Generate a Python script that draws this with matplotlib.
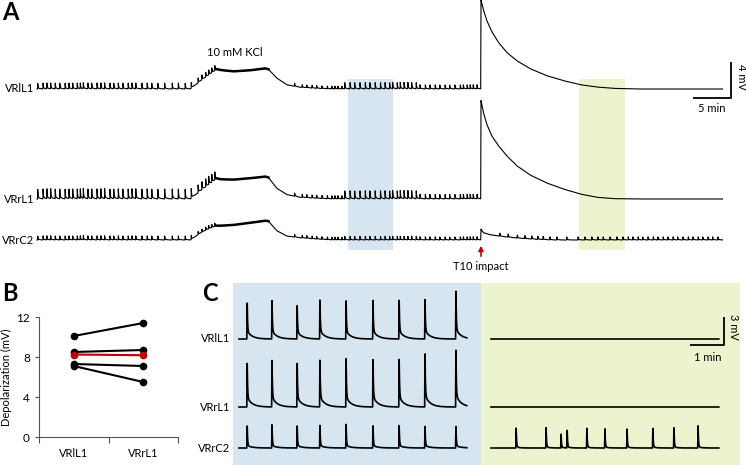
import numpy as np
import matplotlib.pyplot as plt
from matplotlib.patches import Rectangle

plt.rcParams['font.family'] = ['Lato', 'DejaVu Sans']

W, H = 746, 465
BLUE = '#d6e5ef'
YELLOW = '#eef3cf'
RED = '#c00000'

# ---------------- A: whole recording (time in min, depolarization in mV) ----------------
trace_names = ['VRlL1', 'VRrL1', 'VRrC2']

# slow potential (KCl wash-in / wash-out, then T10 impact)
kcl_t = [0, 20.2, 21.45, 22.5, 23.64, 25.83, 28.0, 30.0, 30.44, 31.54, 32.85, 34.6, 36.8, 39.0, 58.38]
kcl_lL1 = [0, 0, 0.85, 1.48, 2.15, 1.96, 2.07, 2.3, 2.2, 1.22, 0.48, 0.19, 0.07, 0, 0]
kcl_rL1 = [0, 0, 0.85, 1.5, 2.2, 2.15, 2.3, 2.5, 2.4, 1.2, 0.5, 0.19, 0.07, 0, 0]
kcl_rC2 = [0, 0, 0.74, 1.2, 1.56, 1.67, 1.9, 2.15, 2.1, 1.04, 0.44, 0.25, 0.1, 0, 0]
plateau = [23.6, 30.45]

impact_t = [58.42, 58.73, 59.17, 59.82, 60.70, 61.80, 63.12, 64.87, 67.06, 69.25, 71.45, 73.64, 75.83, 78.9, 90.2]
impact_lL1 = [9.85, 8.81, 7.63, 6.41, 5.19, 4.07, 3.15, 2.26, 1.48, 0.93, 0.48, 0.22, 0.07, 0, 0]
impact_rL1 = [10.93, 9.63, 8.33, 7.04, 5.93, 4.81, 3.70, 2.67, 1.78, 1.11, 0.56, 0.19, 0.04, 0, 0]
impact_t_rC2 = [58.42, 58.73, 59.6, 61.36, 63.55, 65.75, 67.93, 90.2]
impact_rC2 = [1.19, 0.81, 0.59, 0.37, 0.19, 0.07, 0, 0]

# ventral root bursts (shared by the three roots before the impact)
burst_t = [0.1, 0.8, 1.3, 1.8, 2.4, 3.0, 3.7, 4.2, 4.7, 5.3, 5.7, 6.1, 6.7, 7.2, 7.9, 8.4,
           8.9, 9.6, 10.1, 10.7, 11.3, 12.0, 12.5, 13.0, 13.8, 14.5, 15.1, 15.9, 16.8, 17.8,
           18.6, 19.5, 20.3, 21.2, 21.7, 22.2, 22.6, 23.0, 23.4,
           33.9, 34.9, 35.5, 36.2, 36.8, 37.5, 38.2, 38.8, 39.2, 39.6, 40.1,
           40.5, 41.2, 41.8, 42.5, 43.2, 43.8, 44.5, 45.2, 45.8, 46.4, 46.8, 47.4, 47.8,
           48.3, 48.8, 49.3, 49.9, 50.4, 51.1, 51.7, 52.4, 53.0, 53.7, 54.3, 55.0, 55.7,
           56.1, 56.6, 57.0, 57.4, 57.9,
           60.9, 62.0, 63.2, 64.2, 65.1, 65.9, 66.6, 67.5, 68.4, 69.7, 71.2, 72.1, 73.0,
           73.8, 74.5, 75.4, 76.3, 77.1, 77.8, 78.4, 79.1, 79.7, 80.4, 81.1, 81.7, 82.4,
           83.0, 83.7, 84.3, 85.0, 85.7, 86.3, 87.0, 87.6, 88.3, 88.9, 89.6]
epoch_edges = [0, 20.8, 30, 40.3, 50, 59, 91]
burst_amp_lL1 = [0.65, 0.55, 0.3, 0.7, 0.45, 0]
burst_amp_rL1 = [1.1, 0.9, 0.35, 0.9, 0.5, 0]
burst_amp_rC2 = [0.45, 0.35, 0.3, 0.4, 0.35, 0.35]

blue_win = [40.88, 46.8]
yellow_win = [71.36, 77.37]

# ---------------- B: depolarization after impact ----------------
roots = ['VRlL1', 'VRrL1']
depol_lL1 = [10.1, 8.5, 7.3, 7.1]
depol_rL1 = [11.4, 8.7, 7.1, 5.5]

# ---------------- C: expanded windows (min from window start, mV) ----------------
c_win = 6.7
c_blue_t = [0.24, 0.97, 1.71, 2.38, 3.15, 3.94, 4.71, 5.47, 6.38]
c_blue_lL1 = [4.2, 4.3, 3.9, 4.5, 4.1, 4.4, 4.4, 4.6, 5.3]
c_blue_rL1 = [5.1, 5.2, 5.1, 5.4, 5.2, 5.4, 5.4, 6.2, 6.3]
c_blue_rC2 = [2.6, 2.6, 2.6, 2.6, 2.55, 2.55, 2.55, 2.55, 2.4]
c_yellow_t = [0.74, 1.62, 2.06, 2.24, 2.82, 3.35, 4.0, 4.76, 5.38, 6.09]
c_yellow_rC2 = [2.25, 2.25, 1.5, 2.0, 2.25, 2.25, 2.25, 2.25, 2.25, 2.4]


def add_bursts(t, y, times, amps, rise, tau_fast, tau_slow, frac):
    for ts, a in zip(times, amps):
        d = t - ts
        up = (d < 0) & (d > -rise)
        y[up] += a * (1 + d[up] / rise)
        dn = d >= 0
        y[dn] += a * ((1 - frac) * np.exp(-d[dn] / tau_fast) + frac * np.exp(-d[dn] / tau_slow))
    return y


def px_axes(x0, y0, x1, y1):
    return fig.add_axes([x0 / W, 1 - y1 / H, (x1 - x0) / W, (y1 - y0) / H])


def ftext(x, y, s, **kw):
    fig.text(x / W, 1 - y / H, s, **kw)


fig = plt.figure(figsize=(W / 100, H / 100), dpi=100)

# ---- panel A ----
axA = px_axes(0, 0, W, 270)
axA.set_xlim(-37 / 7.6, (W - 37) / 7.6)
axA.set_ylim((89 - 270) / 9, 89 / 9)
axA.axis('off')

offsets = [0, (89 - 199) / 9, (89 - 240) / 9]
for win, col in [(blue_win, BLUE), (yellow_win, YELLOW)]:
    axA.add_patch(Rectangle((win[0], -17.89), win[1] - win[0], 19.0, color=col, lw=0, zorder=0))

t = np.linspace(0, 90.2, 24000)
env = [(kcl_t + impact_t, kcl_lL1 + impact_lL1),
       (kcl_t + impact_t, kcl_rL1 + impact_rL1),
       (kcl_t + impact_t_rC2, kcl_rC2 + impact_rC2)]
amps = [burst_amp_lL1, burst_amp_rL1, burst_amp_rC2]
idx = np.searchsorted(epoch_edges, burst_t, side='right') - 1
on_plateau = (t >= plateau[0]) & (t <= plateau[1])
for k in range(3):
    y = np.interp(t, env[k][0], env[k][1])
    a = np.array(amps[k])[idx]
    y = add_bursts(t, y, burst_t, a, 0.02, 0.04, 0.3, 0.2)
    axA.plot(t, y + offsets[k], color='black', lw=0.8, zorder=2)
    # noisy, thick-looking trace during the KCl plateau
    axA.plot(t[on_plateau], y[on_plateau] + offsets[k], color='black', lw=1.8, zorder=2)
    ftext(34, [89, 199, 240][k], trace_names[k], ha='right', va='center', fontsize=8)

# scale bar 5 min / 4 mV
axA.plot([86.32, 91.32, 91.32], [-1, -1, 3], color='black', lw=1.3, solid_capstyle='butt')
ftext(712, 109, '5 min', ha='center', va='center', fontsize=8)
ftext(741.5, 77.5, '4 mV', ha='center', va='center', fontsize=8, rotation=-90)

ftext(235, 53, '10 mM KCl', ha='center', va='center', fontsize=8)
axA.annotate('', xy=(58.42, (89 - 243) / 9), xytext=(58.42, (89 - 259) / 9),
             arrowprops=dict(arrowstyle='-|>', color=RED, lw=1.2, mutation_scale=7))
ftext(481, 266, 'T10 impact', ha='center', va='center', fontsize=8)

# ---- panel B ----
axB = px_axes(39, 317, 178, 437)
for a, b in zip(depol_lL1, depol_rL1):
    axB.plot([0, 1], [a, b], '-o', color='black', lw=1.5, ms=4.5)
axB.plot([0, 1], [np.mean(depol_lL1), np.mean(depol_rL1)], '-o', color=RED, lw=1.5, ms=4.5)
axB.set_xlim(-0.5, 1.5)
axB.set_ylim(0, 12)
axB.set_yticks([0, 4, 8, 12])
axB.set_xticks([0, 1])
axB.set_xticklabels(roots)
axB.set_xticks([-0.5, 0.5, 1.5], minor=True)
axB.tick_params(axis='x', which='major', length=0, pad=8, labelsize=8)
axB.tick_params(axis='x', which='minor', length=4, width=0.8, color='#555555')
axB.tick_params(axis='y', length=3, width=0.8, color='#555555', labelsize=8.5)
for s in ['top', 'right']:
    axB.spines[s].set_visible(False)
for s in ['left', 'bottom']:
    axB.spines[s].set_color('#555555')
    axB.spines[s].set_linewidth(0.8)
axB.set_ylabel('Depolarization (mV)', fontsize=8, labelpad=3)

# ---- panel C ----
axC = px_axes(233, 283, 740, 465)
axC.set_xlim(0, 507 / 34)
axC.set_ylim(-17 / 9.3, (448 - 283) / 9.3)
axC.axis('off')
blue_x0 = 6 / 34
yellow_x0 = (491 - 233) / 34
split = (481 - 233) / 34
axC.axvspan(0, split, color=BLUE, lw=0, zorder=0)
axC.axvspan(split, 507 / 34, color=YELLOW, lw=0, zorder=0)

c_off = [(448 - 339) / 9.3, (448 - 407) / 9.3, 0]
tc = np.linspace(0, c_win, 3000)
blue_amps = [c_blue_lL1, c_blue_rL1, c_blue_rC2]
blue_frac = [0.2, 0.2, 0.1]
for k in range(3):
    y = add_bursts(tc, np.zeros_like(tc), c_blue_t, blue_amps[k], 0.01, 0.012, 0.15, blue_frac[k])
    axC.plot(tc + blue_x0, y + c_off[k], color='black', lw=1.2, zorder=2)
    ftext(230, [339, 407, 448][k], trace_names[k], ha='right', va='center', fontsize=8)
for k in range(2):
    axC.plot(tc + yellow_x0, np.zeros_like(tc) + c_off[k], color='black', lw=1.2, zorder=2)
y = add_bursts(tc, np.zeros_like(tc), c_yellow_t, c_yellow_rC2, 0.01, 0.012, 0.1, 0.05)
axC.plot(tc + yellow_x0, y + c_off[2], color='black', lw=1.2, zorder=2)

# scale bar 1 min / 3 mV
cx = (724 - 233) / 34
cy = (448 - 345) / 9.3
axC.plot([cx - 1, cx, cx], [cy, cy, cy + 3], color='black', lw=1.3, solid_capstyle='butt')
ftext(708, 357.5, '1 min', ha='center', va='center', fontsize=8)
ftext(734, 327, '3 mV', ha='center', va='center', fontsize=8, rotation=-90)

# panel letters
ftext(2, 13, 'A', ha='left', va='center', fontsize=17, fontweight='bold')
ftext(2, 293, 'B', ha='left', va='center', fontsize=17, fontweight='bold')
ftext(202, 293, 'C', ha='left', va='center', fontsize=17, fontweight='bold')

fig.savefig('out.png', dpi=100)
